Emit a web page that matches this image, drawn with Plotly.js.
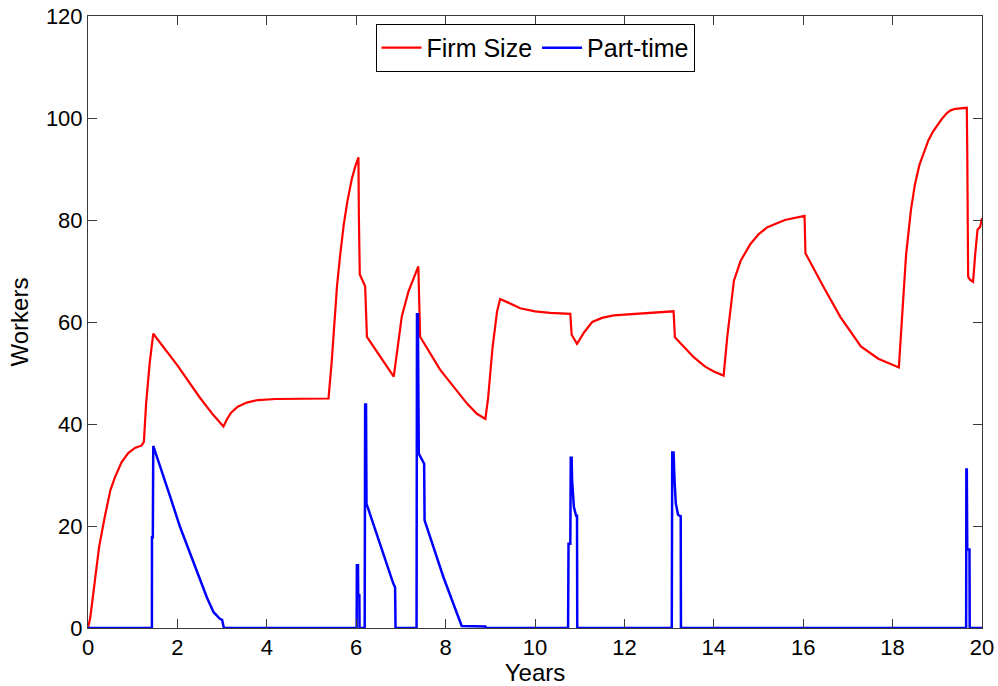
<!DOCTYPE html>
<html>
<head>
<meta charset="utf-8">
<script src="https://cdn.plot.ly/plotly-3.0.1.min.js"></script>
<style>html,body{margin:0;padding:0;background:#fff;}#chart{width:998px;height:686px;}</style>
</head>
<body>
<div id="chart"></div>
<script>
// Firm Size (red)
var firmYears = [0, 0.05, 0.15, 0.25, 0.38, 0.5, 0.6, 0.75, 0.9, 1.05, 1.2, 1.25, 1.3, 1.38, 1.46,
  2.0, 2.5, 2.8, 3.03, 3.1, 3.2, 3.35, 3.55, 3.8, 4.2, 5.38,
  5.45, 5.5, 5.57, 5.64, 5.72, 5.8, 5.9, 5.98, 6.05, 6.06, 6.08, 6.2, 6.24, 6.84,
  6.96, 7.02, 7.17, 7.39, 7.41, 7.43, 7.88, 8.48, 8.7, 8.89,
  8.95, 9.05, 9.15, 9.22, 9.4, 9.67, 10.0, 10.34, 10.79, 10.82, 10.94,
  11.1, 11.28, 11.5, 11.76, 12.5, 13.1, 13.13, 13.3, 13.55, 13.8, 14.0, 14.22,
  14.3, 14.45, 14.6, 14.82, 15.0, 15.2, 15.59, 16.03, 16.05, 16.44, 16.83, 17.29, 17.68, 18.14,
  18.22, 18.3, 18.41, 18.5, 18.6, 18.68, 18.8, 18.9, 19.0, 19.1, 19.22, 19.3, 19.4, 19.66, 19.67, 19.68, 19.69, 19.73, 19.8,
  19.85, 19.9, 19.96, 20.0];
var firmSize = [0, 2, 9, 16, 22, 27, 29.5, 32.5, 34.3, 35.3, 35.8, 36.5, 44, 52, 57.7,
  51.5, 45.2, 41.8, 39.5, 40.8, 42.2, 43.4, 44.2, 44.7, 44.9, 45,
  52, 57.7, 67, 73, 79, 83.5, 88, 90.5, 92.3, 80.7, 69.3, 67, 57.1, 49.3,
  56.5, 61.1, 66, 70.9, 64, 57.1, 50.6, 44, 42, 41,
  45, 55, 62, 64.5, 63.8, 62.7, 62.1, 61.8, 61.6, 57.5, 55.7,
  58, 60, 60.8, 61.3, 61.8, 62.1, 57, 55.4, 53.1, 51.3, 50.3, 49.5,
  57, 68.1, 72, 75.3, 77.2, 78.6, 80, 80.8, 73.5, 67.1, 61, 55.2, 52.8, 51.1,
  63, 73, 82, 87, 90.8, 92.8, 95.6, 97.3, 98.6, 99.8, 101, 101.5, 101.8, 102, 93.8, 85.6, 68.9, 68.3, 67.9,
  73.5, 78.1, 78.7, 80.4];

// Part-time (blue)
var partYears = [0, 1.43, 1.431, 1.45, 1.46, 1.54, 1.84, 2.06, 2.43, 2.66, 2.81, 2.95, 3.0, 3.04,
  6.01, 6.015, 6.04, 6.045, 6.07, 6.075,
  6.19, 6.2, 6.22, 6.23, 6.83, 6.87, 6.88,
  7.35, 7.36, 7.38, 7.40, 7.52, 7.53, 7.95, 8.36, 8.89, 8.9,
  10.74, 10.75, 10.79, 10.8, 10.82, 10.83, 10.85, 10.87, 10.92, 10.94, 10.945,
  13.06, 13.07, 13.1, 13.12, 13.15, 13.2, 13.26, 13.265,
  19.645, 19.65, 19.66, 19.67, 19.72, 19.725, 20.0];
var partTime = [0, 0, 17.8, 17.8, 35.7, 33.5, 25.7, 19.8, 11.3, 6, 3.1, 1.8, 1.6, 0,
  0, 12.3, 12.3, 6.4, 6.4, 0,
  0, 43.8, 43.8, 24.4, 8.7, 8.0, 0,
  0, 61.5, 61.5, 34.2, 32.2, 21.1, 10, 0.4, 0.3, 0,
  0, 16.5, 16.5, 33.4, 33.4, 29, 24.5, 23.7, 22, 22, 0,
  0, 34.4, 34.4, 29.3, 24.4, 22.2, 21.9, 0,
  0, 31.1, 31.1, 15.4, 15.4, 0, 0];

var xTicks = [0, 2, 4, 6, 8, 10, 12, 14, 16, 18, 20];
var yTicks = [0, 20, 40, 60, 80, 100, 120];

var traces = [
  {x: firmYears, y: firmSize, type: 'scatter', mode: 'lines', name: 'Firm Size',
   line: {color: '#ff0000', width: 2.2}},
  {x: partYears, y: partTime, type: 'scatter', mode: 'lines', name: 'Part-time',
   line: {color: '#0000ff', width: 2.5}}
];

var axisCommon = {
  showgrid: false, zeroline: false, showline: true, linecolor: '#3a3a3a', linewidth: 1,
  mirror: 'ticks', ticks: 'inside', ticklen: 9, tickcolor: '#3a3a3a', tickwidth: 1,
  tickfont: {family: 'Liberation Sans, Arial, sans-serif', size: 22, color: '#000'}
};

var layout = {
  width: 998, height: 686,
  margin: {l: 88, r: 16, t: 16, b: 58},
  paper_bgcolor: '#fff', plot_bgcolor: '#fff',
  font: {family: 'Liberation Sans, Arial, sans-serif', color: '#000'},
  showlegend: true,
  legend: {orientation: 'h', x: 0.5, xanchor: 'center', y: 0.987, yanchor: 'top',
    bordercolor: '#000', borderwidth: 1, bgcolor: '#fff',
    font: {family: 'Liberation Sans, Arial, sans-serif', size: 25, color: '#000'},
    itemwidth: 40, tracegroupgap: 0},
  xaxis: Object.assign({}, axisCommon, {range: [0, 20], tickvals: xTicks, ticktext: xTicks.map(String),
    title: {text: 'Years', font: {size: 24, color: '#000'}, standoff: 1}}),
  yaxis: Object.assign({}, axisCommon, {range: [0, 120], tickvals: yTicks, ticktext: yTicks.map(String),
    title: {text: 'Workers', font: {size: 24, color: '#000'}, standoff: 10}})
};

Plotly.newPlot('chart', traces, layout, {displayModeBar: false, staticPlot: true});
</script>
</body>
</html>
